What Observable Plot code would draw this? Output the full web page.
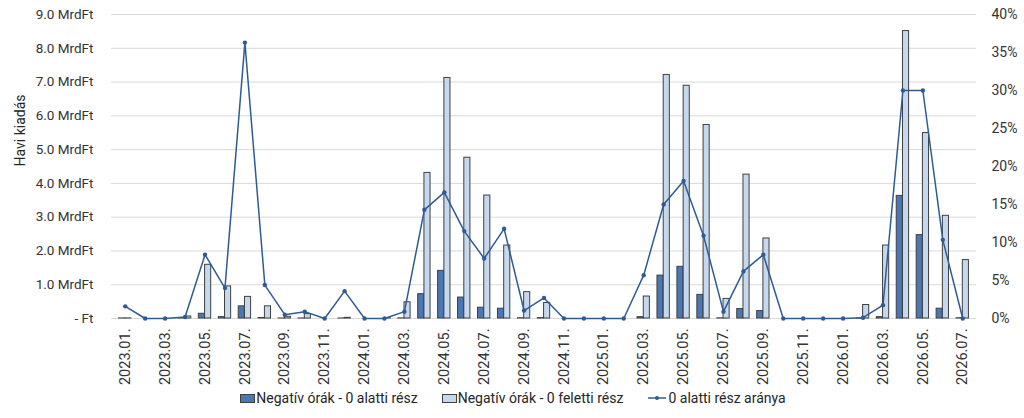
<!DOCTYPE html>
<html>
<head>
<meta charset="utf-8">
<script src="https://cdn.jsdelivr.net/npm/d3@7"></script>
<script src="https://cdn.jsdelivr.net/npm/@observablehq/plot@0.6"></script>
<style>
  html, body { margin: 0; padding: 0; background: #fff; }
  body { width: 1024px; height: 418px; overflow: hidden; font-family: "Roboto", sans-serif; }
  #legend { position: absolute; top: 390px; left: 0; width: 1026px; display: flex; justify-content: center; gap: 24px; font-size: 14px; color: #262626; }
  .item { display: flex; align-items: center; gap: 1px; }
  .sw { width: 15px; height: 9px; border: 1px solid #404040; box-sizing: border-box; }
</style>
</head>
<body>
<div id="chart"></div>
<div id="legend">
  <div class="item"><div class="sw" style="background:#4a78b4"></div><span>Negatív órák - 0 alatti rész</span></div>
  <div class="item"><div class="sw" style="background:#c6d8ee"></div><span>Negatív órák - 0 feletti rész</span></div>
  <div class="item"><svg width="20" height="10"><line x1="1" x2="19" y1="5" y2="5" stroke="#2f5b93" stroke-width="1.5"/><circle cx="10" cy="5" r="2" fill="#2f5b93"/></svg><span>0 alatti rész aránya</span></div>
</div>
<script>
const months = [
  "2023.01.","2023.02.","2023.03.","2023.04.","2023.05.","2023.06.","2023.07.","2023.08.","2023.09.","2023.10.","2023.11.","2023.12.",
  "2024.01.","2024.02.","2024.03.","2024.04.","2024.05.","2024.06.","2024.07.","2024.08.","2024.09.","2024.10.","2024.11.","2024.12.",
  "2025.01.","2025.02.","2025.03.","2025.04.","2025.05.","2025.06.","2025.07.","2025.08.","2025.09.","2025.10.","2025.11.","2025.12.",
  "2026.01.","2026.02.","2026.03.","2026.04.","2026.05.","2026.06.","2026.07."
];
// MrdFt
const alatti = [
  0.002, 0, 0, 0.005, 0.14, 0.04, 0.36, 0.016, 0.001, 0.002, 0, 0.001,
  0, 0, 0.004, 0.72, 1.41, 0.62, 0.32, 0.29, 0.008, 0.013, 0, 0,
  0, 0, 0.04, 1.27, 1.53, 0.70, 0.005, 0.28, 0.22, 0, 0, 0,
  0, 0.001, 0.04, 3.63, 2.47, 0.29, 0.008
];
const feletti = [
  0.003, 0, 0, 0.06, 1.59, 0.95, 0.64, 0.36, 0.05, 0.13, 0, 0.02,
  0, 0.01, 0.48, 4.31, 7.12, 4.76, 3.64, 2.16, 0.78, 0.46, 0, 0,
  0, 0, 0.65, 7.21, 6.89, 5.73, 0.58, 4.26, 2.37, 0, 0, 0,
  0, 0.40, 2.16, 8.51, 5.49, 3.04, 1.73
];
// %
const arany = [
  1.6, 0, 0, 0.2, 8.4, 4.0, 36.3, 4.4, 0.5, 0.9, 0, 3.6,
  0, 0, 0.9, 14.3, 16.6, 11.5, 7.9, 11.8, 1.05, 2.7, 0, 0,
  0, 0, 5.7, 15.0, 18.1, 10.9, 0.9, 6.2, 8.4, 0, 0, 0,
  0, 0.1, 1.75, 30.0, 30.0, 10.35, 0
];
const yMax = 9, pMax = 40;
const rows = months.map((m, i) => ({m, a: alatti[i], f: feletti[i], p: arany[i], pScaled: arany[i] / pMax * yMax}));
const leftTicks = d3.range(0, 10, 1);
const rightTicks = d3.range(0, 45, 5);
const labelTicks = months.filter((d, i) => i % 2 === 0);

const chart = Plot.plot({
  width: 1024,
  height: 388,
  marginTop: 14,
  marginBottom: 70,
  marginLeft: 111,
  marginRight: 48,
  style: {fontFamily: '"Roboto", sans-serif', fontSize: "13px", color: "#404040"},
  x: {type: "band", domain: months, padding: 0.38, align: 0.5},
  y: {domain: [0, yMax]},
  marks: [
    Plot.ruleY(leftTicks, {stroke: "#d9d9d9", strokeWidth: 1}),
    Plot.axisY(leftTicks, {anchor: "left", tickSize: 0, tickPadding: 18, label: null,
      tickFormat: d => d === 0 ? "- Ft" : d.toFixed(1) + " MrdFt", fill: "#333", fontSize: 13.5}),
    Plot.axisY(rightTicks.map(p => p / pMax * yMax), {anchor: "right", tickSize: 0, tickPadding: 15, label: null,
      textAnchor: "start", tickFormat: d => Math.round(d / yMax * pMax) + "%", fill: "#333", fontSize: 14}),
    Plot.text(["Havi kiadás"], {frameAnchor: "left", dx: -91, rotate: -90, fontSize: 14, fill: "#262626"}),
    Plot.axisX(labelTicks, {tickSize: 0, tickPadding: 10, tickRotate: -90, label: null, fill: "#333", fontSize: 14.5}),
    Plot.barY(rows.filter(d => d.a > 0), {x: "m", y: "a", fill: "#4a78b4", stroke: "#404040", strokeWidth: 1, insetRight: 6.25}),
    Plot.barY(rows.filter(d => d.f > 0), {x: "m", y: "f", fill: "#c6d8ee", stroke: "#404040", strokeWidth: 1, insetLeft: 6.25}),
    Plot.line(rows, {x: "m", y: "pScaled", stroke: "#2f5b93", strokeWidth: 1.5}),
    Plot.dot(rows, {x: "m", y: "pScaled", r: 2.2, fill: "#2f5b93"})
  ]
});
document.getElementById("chart").appendChild(chart);
</script>
</body>
</html>
